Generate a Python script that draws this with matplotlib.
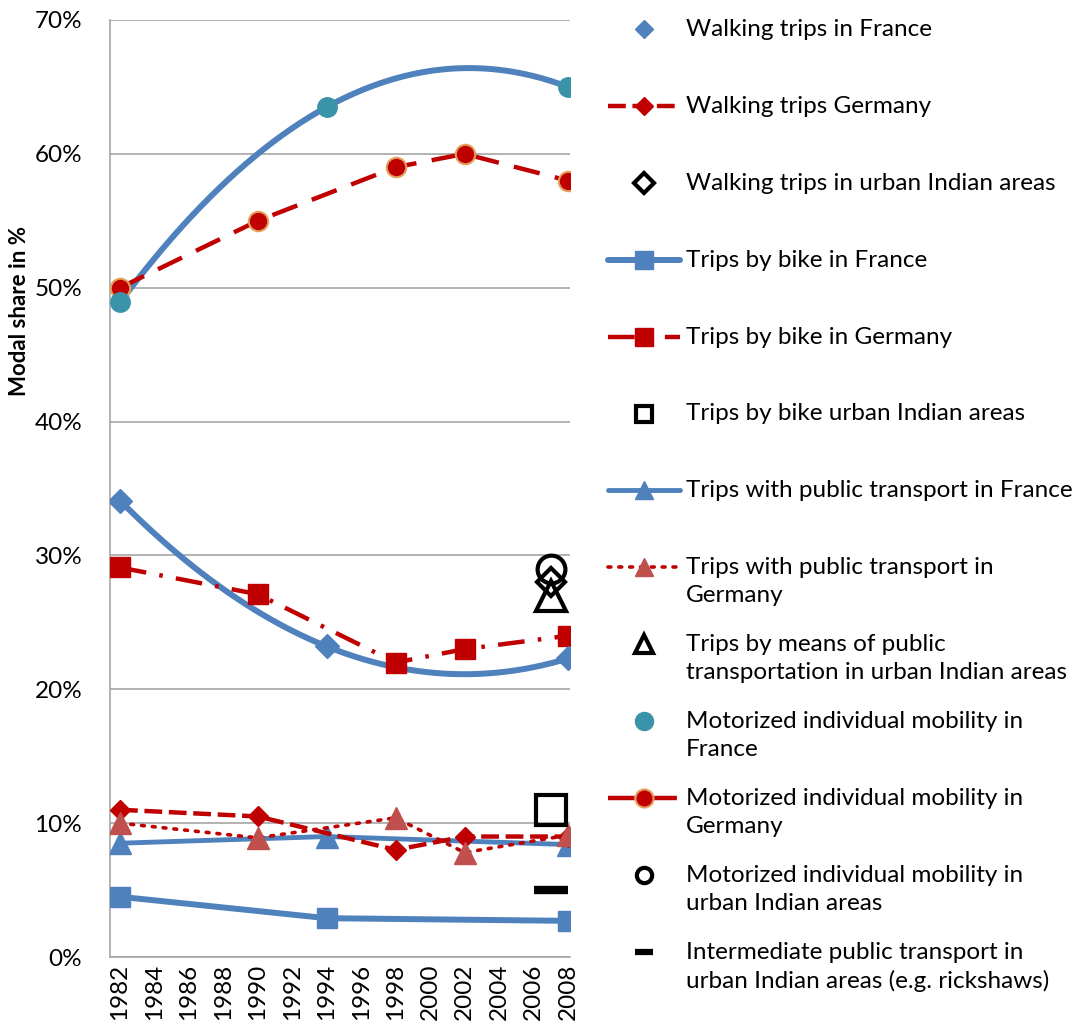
import numpy as np
import matplotlib
matplotlib.use("Agg")
import matplotlib.pyplot as plt
from matplotlib.lines import Line2D
from matplotlib.ticker import FuncFormatter

plt.rcParams['font.family'] = ['Lato', 'DejaVu Sans']

# ---------- data (modal share in %) ----------
years_fr = [1982, 1994, 2008]
walk_fr = [34.1, 23.2, 22.3]
bike_fr = [4.5, 2.9, 2.7]
pt_fr = [8.5, 9.0, 8.4]
motor_fr = [48.9, 63.5, 65.0]

years_de = [1982, 1990, 1998, 2002, 2008]
walk_de = [11.0, 10.5, 8.0, 9.0, 9.0]
bike_de = [29.1, 27.1, 22.0, 23.0, 24.0]
pt_de = [10.0, 8.9, 10.4, 7.8, 9.1]
motor_de = [50.0, 55.0, 59.0, 60.0, 58.0]

year_in = 2007
walk_in = 28
bike_in = 11
pt_in = 27
motor_in = 29
ipt_in = 5

BLUE = '#4F81BD'
DRED = '#C00000'
RED = '#C0504D'
TEAL = '#3A93A8'

W, H = 1084, 1027
fig = plt.figure(figsize=(W / 100, H / 100), dpi=100)
ax = fig.add_axes([110 / W, (H - 957) / H, 460 / W, 937 / H])


def trend(x, y):
    # 2nd order polynomial trendline, like the spreadsheet one
    c = np.polyfit(x, y, 2)
    xs = np.linspace(min(x), max(x), 200)
    return xs, np.polyval(c, xs)


# France: walking and motorized shown as markers + trendline
xs, ys = trend(years_fr, walk_fr)
ax.plot(xs, ys, color=BLUE, lw=4.3, solid_capstyle='round', zorder=3)
ax.plot(years_fr, walk_fr, ls='none', marker='D', ms=12, color=BLUE, zorder=4)

xs, ys = trend(years_fr, motor_fr)
ax.plot(xs, ys, color=BLUE, lw=4.3, solid_capstyle='round', zorder=3)
ax.plot(years_fr, motor_fr, ls='none', marker='o', ms=14, color=TEAL, zorder=4)

ax.plot(years_fr, bike_fr, color=BLUE, lw=4.3, marker='s', ms=14, zorder=3)
ax.plot(years_fr, pt_fr, color=BLUE, lw=3.5, marker='^', ms=16, zorder=3)

# Germany
ax.plot(years_de, walk_de, color=DRED, lw=3.2, ls=(0, (4, 1.5)), marker='D', ms=10, zorder=3)
ax.plot(years_de, bike_de, color=DRED, lw=3.2, ls=(0, (6, 3, 0.8, 3)), marker='s', ms=15, zorder=3)
ax.plot(years_de, pt_de, color=DRED, lw=2.6, ls=(0, (0.8, 2.2)), dash_capstyle='round',
        marker='^', ms=16, mfc=RED, mec=RED, zorder=3)
ax.plot(years_de, motor_de, color=DRED, lw=3.2, ls=(0, (6, 3.5)), marker='o', ms=14,
        mfc=DRED, mec='#E3A05C', mew=1.5, zorder=3)

# urban Indian areas (single year)
ax.plot([year_in], [motor_in], ls='none', marker='o', ms=20, mfc='none', mec='black', mew=3, zorder=5)
ax.plot([year_in], [walk_in], ls='none', marker='D', ms=14, mfc='none', mec='black', mew=3, zorder=5)
ax.plot([year_in], [pt_in], ls='none', marker='^', ms=22, mfc='none', mec='black', mew=3, zorder=5)
ax.plot([year_in], [bike_in], ls='none', marker='s', ms=21, mfc='none', mec='black', mew=3, zorder=5)
ax.plot([year_in], [ipt_in], ls='none', marker='_', ms=24, mec='black', mew=6, zorder=5)

# ---------- axes styling ----------
ax.set_xlim(1981.42, 2008.12)
ax.set_ylim(0, 70)
ax.set_xticks(range(1982, 2009, 2))
ax.set_xticklabels([str(y) for y in range(1982, 2009, 2)], rotation=90, fontsize=17.5)
ax.set_yticks(range(0, 71, 10))
ax.yaxis.set_major_formatter(FuncFormatter(lambda v, p: f"{v:.0f}%"))
ax.tick_params(axis='y', labelsize=17.5, length=0, pad=20)
ax.tick_params(axis='x', length=0, pad=5)
ax.grid(axis='y', color='#A6A6A6', lw=1.2)
ax.set_axisbelow(True)
for s in ['top', 'right']:
    ax.spines[s].set_visible(False)
for s in ['left', 'bottom']:
    ax.spines[s].set_color('#A6A6A6')
    ax.spines[s].set_linewidth(1.2)

fig.text(20 / W, 1 - 311 / H, 'Modal share in %', rotation=90, fontsize=16,
         fontweight='bold', ha='center', va='center')

# ---------- legend drawn by hand ----------
legend_items = [
    ('Walking trips in France', dict(ls='none', marker='D', ms=9, color=BLUE)),
    ('Walking trips Germany', dict(color=DRED, lw=3.2, ls=(0, (4, 1.5)), marker='D', ms=9)),
    ('Walking trips in urban Indian areas', dict(ls='none', marker='D', ms=10, mfc='none', mec='black', mew=3)),
    ('Trips by bike in France', dict(color=BLUE, lw=4.3, marker='s', ms=13, solid_capstyle='round')),
    ('Trips by bike in Germany', dict(color=DRED, lw=3.2, ls=(0, (6, 3, 0.8, 3)), marker='s', ms=13)),
    ('Trips by bike urban Indian areas', dict(ls='none', marker='s', ms=12, mfc='none', mec='black', mew=3)),
    ('Trips with public transport in France', dict(color=BLUE, lw=3.5, marker='^', ms=13, solid_capstyle='round')),
    ('Trips with public transport in\nGermany', dict(color=DRED, lw=2.6, ls=(0, (0.8, 2.2)), dash_capstyle='round',
                                                  marker='^', ms=13, mfc=RED, mec=RED)),
    ('Trips by means of public\ntransportation in urban Indian areas',
     dict(ls='none', marker='^', ms=13, mfc='none', mec='black', mew=3)),
    ('Motorized individual mobility in\nFrance', dict(ls='none', marker='o', ms=13, color=TEAL)),
    ('Motorized individual mobility in\nGermany', dict(color=DRED, lw=3.2, ls=(0, (6, 3.5)), marker='o', ms=13,
                                                    mfc=DRED, mec='#E3A05C', mew=1.5)),
    ('Motorized individual mobility in\nurban Indian areas',
     dict(ls='none', marker='o', ms=11, mfc='none', mec='black', mew=3)),
    ('Intermediate public transport in\nurban Indian areas (e.g. rickshaws)',
     dict(ls='none', marker='_', ms=13, mec='black', mew=4.5)),
]

y0, step = 29, 76.9
for i, (label, style) in enumerate(legend_items):
    yp = y0 + i * step
    yf = 1 - yp / H
    fig.add_artist(Line2D([608 / W, 644 / W, 680 / W], [yf, yf, yf], markevery=[1],
                          transform=fig.transFigure, **style))
    fig.text(686 / W, 1 - (yp - 10) / H, label, fontsize=17.5, ha='left', va='top',
             linespacing=1.42)

fig.savefig('out.png', dpi=100, facecolor='white')
